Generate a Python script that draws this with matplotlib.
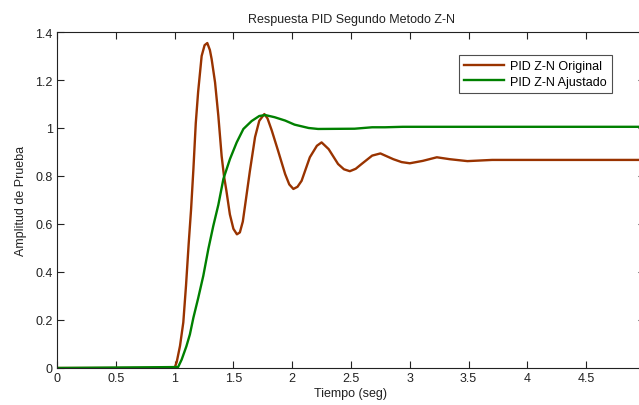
import matplotlib
matplotlib.use("Agg")
import matplotlib.pyplot as plt
from matplotlib.ticker import FuncFormatter

plt.rcParams['font.family'] = ['Liberation Sans', 'DejaVu Sans']

title = "Respuesta PID Segundo Metodo Z-N"
xlabel = "Tiempo (seg)"
ylabel = "Amplitud de Prueba"
series_names = ["PID Z-N Original", "PID Z-N Ajustado"]
x_ticks = [0, 0.5, 1, 1.5, 2, 2.5, 3, 3.5, 4, 4.5]
y_ticks = [0, 0.2, 0.4, 0.6, 0.8, 1.0, 1.2, 1.4]

t_original = [0.0, 1.0, 1.018, 1.046, 1.074, 1.097, 1.12, 1.14, 1.16, 1.18, 1.20, 1.23,
              1.255, 1.278, 1.30, 1.315, 1.344, 1.372, 1.40, 1.42, 1.44, 1.47, 1.50, 1.53,
              1.555, 1.58, 1.607, 1.64, 1.684, 1.72, 1.763, 1.79, 1.826, 1.88, 1.94, 1.975,
              2.01, 2.045, 2.08, 2.15, 2.21, 2.25, 2.31, 2.39, 2.44, 2.49, 2.54, 2.59, 2.68,
              2.75, 2.86, 2.93, 3.00, 3.11, 3.23, 3.34, 3.49, 3.70, 4.00, 5.00]
y_original = [0.0, 0.0, 0.025, 0.092, 0.19, 0.343, 0.52, 0.66, 0.83, 1.02, 1.15, 1.30,
              1.345, 1.354, 1.325, 1.287, 1.19, 1.05, 0.883, 0.80, 0.74, 0.64, 0.58, 0.557,
              0.565, 0.61, 0.704, 0.82, 0.962, 1.03, 1.058, 1.04, 0.99, 0.905, 0.808, 0.765,
              0.746, 0.755, 0.78, 0.878, 0.926, 0.94, 0.912, 0.85, 0.828, 0.82, 0.83, 0.85,
              0.885, 0.894, 0.87, 0.858, 0.853, 0.863, 0.878, 0.87, 0.862, 0.867, 0.867, 0.867]

t_ajustado = [0.0, 1.03, 1.06, 1.10, 1.13, 1.16, 1.20, 1.244, 1.287, 1.329, 1.372, 1.415,
              1.471, 1.528, 1.585, 1.655, 1.72, 1.77, 1.85, 1.94, 2.02, 2.14, 2.22, 2.53,
              2.68, 2.79, 2.94, 3.50, 5.00]
y_ajustado = [0.0, 0.004, 0.035, 0.09, 0.14, 0.21, 0.29, 0.384, 0.496, 0.592, 0.68, 0.788,
              0.871, 0.94, 0.996, 1.029, 1.05, 1.054, 1.045, 1.031, 1.014, 1.0, 0.996, 0.997,
              1.003, 1.003, 1.005, 1.005, 1.005]

W, H = 639, 406
fig = plt.figure(figsize=(W / 100, H / 100), dpi=100)
fig.patch.set_facecolor('white')
left, right, top, bottom = 57, 645, 33, 369
ax = fig.add_axes([left / W, 1 - bottom / H, (right - left) / W, (bottom - top) / H])

ax.plot(t_original, y_original, color='#993300', lw=1.7, label=series_names[0])
ax.plot(t_ajustado, y_ajustado, color='#008000', lw=1.7, label=series_names[1])

ax.set_xlim(0, 5)
ax.set_ylim(0, 1.4)
ax.set_xticks(x_ticks)
ax.set_yticks(y_ticks)
fmt = FuncFormatter(lambda v, p: ('%g' % round(v, 3)))
ax.xaxis.set_major_formatter(fmt)
ax.yaxis.set_major_formatter(fmt)
ax.tick_params(direction='in', length=5, width=0.8, top=True, right=True,
               labelsize=9, colors='#222222', pad=3)
for s in ax.spines.values():
    s.set_linewidth(0.8)
    s.set_color('#222222')

ax.set_title(title, fontsize=9, color='#222222', pad=7)
ax.set_xlabel(xlabel, fontsize=9, color='#222222', labelpad=2)
ax.set_ylabel(ylabel, fontsize=9, color='#222222', labelpad=6)

leg = ax.legend(loc='upper left', bbox_to_anchor=(459 / W, 1 - 56 / H),
                bbox_transform=fig.transFigure, fontsize=9, frameon=True,
                fancybox=False, borderpad=0.4, handlelength=3.2, labelspacing=0.3,
                handletextpad=0.5, borderaxespad=0)
leg.get_frame().set_edgecolor('#222222')
leg.get_frame().set_linewidth(0.8)

fig.savefig('out.png', dpi=100)
